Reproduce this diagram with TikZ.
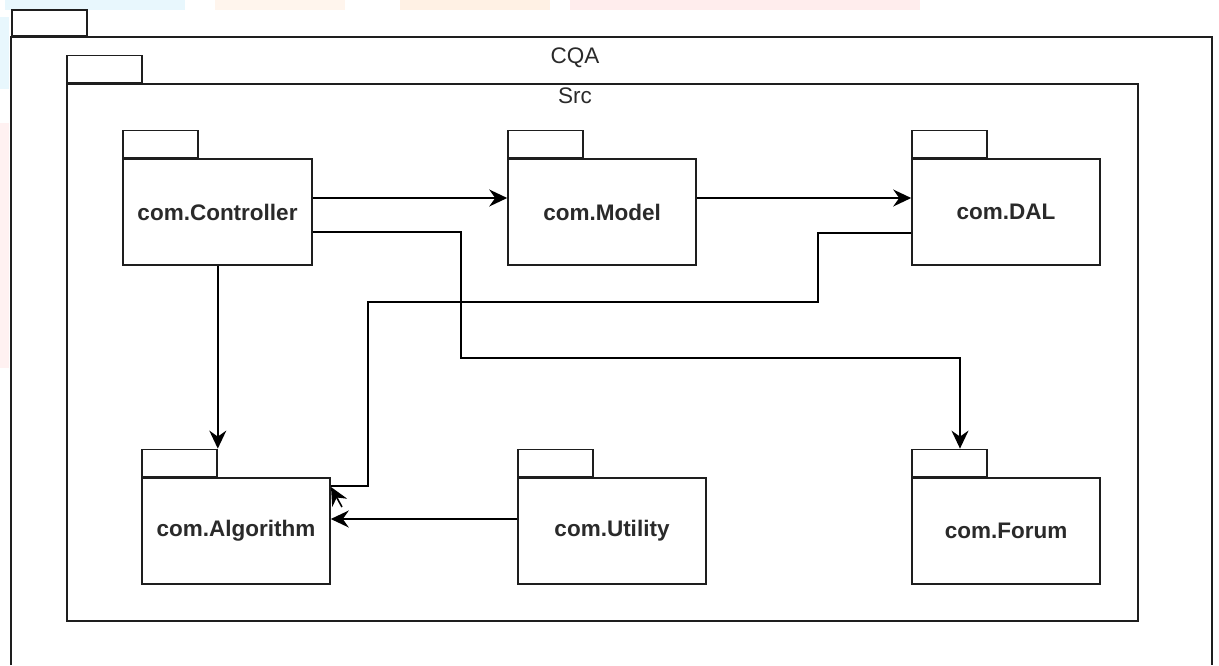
\documentclass[tikz,border=0pt]{standalone}
\usepackage{fontspec}
\setmainfont{Liberation Sans}
\usetikzlibrary{arrows.meta}
\definecolor{ln}{HTML}{1E1E1E}
\definecolor{tx}{HTML}{2A2A2A}
\begin{document}
\begin{tikzpicture}[x=1pt,y=-1pt,
  pkgbody/.style={draw=ln, line width=1.6pt, rectangle, inner sep=0pt,
    minimum width=188pt, minimum height=106pt, text=tx,
    font=\fontsize{22.5}{26}\selectfont\bfseries},
  pkgtab/.style={draw=ln, line width=1.6pt, rectangle, inner sep=0pt,
    minimum width=75pt, minimum height=27pt, anchor=south west},
  lbl/.style={text=tx, inner sep=0pt, font=\fontsize{22.5}{26}\selectfont},
  conn/.style={draw=black, line width=1.6pt},
  arr/.style={conn, -{Stealth[length=18pt,width=17pt,inset=6pt]}},
  wm/.style={draw=none, opacity=0.35}
]
\useasboundingbox (0,0) rectangle (1219,665);
\fill[white] (0,0) rectangle (1219,665);
% faint watermark colours along the edges
\fill[wm, fill=cyan!25] (5,0) rectangle (185,10);
\fill[wm, fill=orange!20] (215,0) rectangle (345,10);
\fill[wm, fill=orange!30] (400,0) rectangle (550,10);
\fill[wm, fill=red!20] (570,0) rectangle (920,10);
\fill[wm, fill=cyan!25] (0,17) rectangle (9,89);
\fill[wm, fill=red!15] (0,123) rectangle (9,368);

% CQA outer package (open at the bottom)
\node[pkgtab, minimum height=26pt] (cqatab) at (11,37) {};
\draw[line width=1.6pt, draw=ln] (11,665) -- (11,37) -- (1212,37) -- (1212,665);
\node[lbl] (cqa) at (575,58) {CQA};

% Src package
\node[draw=ln, line width=1.6pt, rectangle, inner sep=0pt,
  minimum width=1071pt, minimum height=537pt] (src) at (602.5,352.5) {};
\node[pkgtab] (srctab) at (src.north west) {};
\node[lbl] (srclbl) at (575,96) {Src};

% inner packages
\node[pkgbody, minimum width=189pt] (ctrl) at (217.5,212) {com.Controller};
\node[pkgtab] (ctrltab) at (ctrl.north west) {};
\node[pkgbody] (model) at (602,212) {com.Model};
\node[pkgtab] (modeltab) at (model.north west) {};
\node[pkgbody] (dal) at (1006,212) {com.DAL};
\node[pkgtab] (daltab) at (dal.north west) {};
\node[pkgbody] (alg) at (236,531) {com.Algorithm};
\node[pkgtab] (algtab) at (alg.north west) {};
\node[pkgbody] (util) at (612,531) {com.Utility};
\node[pkgtab] (utiltab) at (util.north west) {};
\node[pkgbody] (forum) at (1006,531) {com.Forum};
\node[pkgtab] (forumtab) at (forum.north west) {};

% connectors
\draw[arr] ([yshift=14pt]ctrl.east) -- ([yshift=14pt]model.west);
\draw[arr] ([yshift=14pt]model.east) -- ([yshift=14pt]dal.west);
\draw[arr] (ctrl.south -| algtab.north east) -- (algtab.north east);
\coordinate (cf1) at (461,358);
\draw[arr] ([yshift=-20pt]ctrl.east) -| (cf1) -| ([xshift=10.5pt]forumtab.north);
\coordinate (da1) at (818,302);
\coordinate (da2) at (368,486);
\draw[conn] ([yshift=-21pt]dal.west) -| (da1) -| (da2) -- (da2 -| alg.east);
\coordinate (dahead0) at (342,507);
\coordinate (dahead1) at (331,487);
\draw[arr] (dahead0) -- (dahead1);
\draw[arr] ([yshift=12pt]util.west) -- ([yshift=12pt]alg.east);
\end{tikzpicture}
\end{document}
